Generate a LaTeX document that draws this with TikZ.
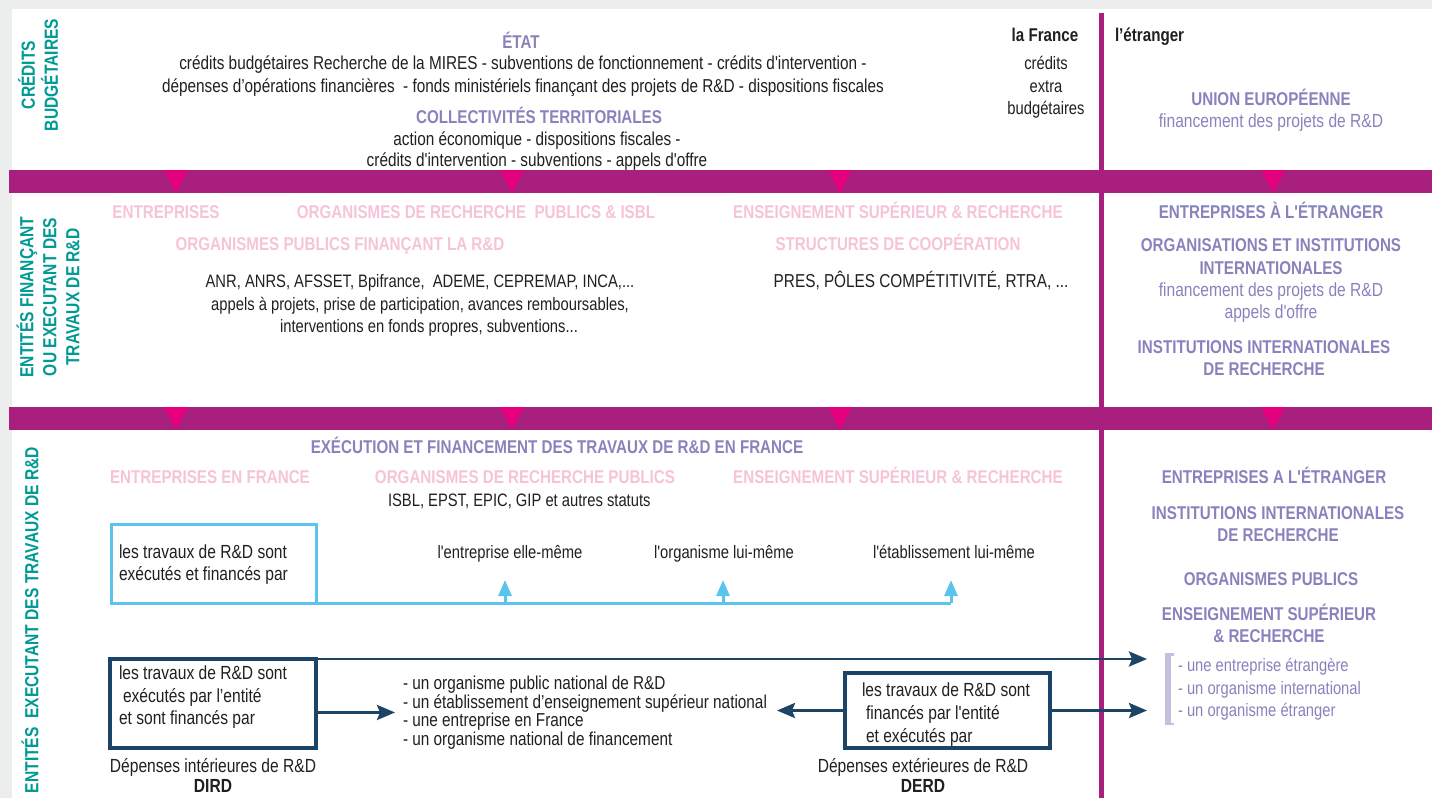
\documentclass[tikz,border=0pt]{standalone}
\usepackage{fontspec}
\newfontfamily\nar[FakeStretch=0.82]{Liberation Sans}
\usetikzlibrary{arrows.meta}
\definecolor{cbg}{HTML}{ECEDED}
\definecolor{cband}{HTML}{A81F7D}
\definecolor{ctri}{HTML}{E4007D}
\definecolor{cteal}{HTML}{009A95}
\definecolor{cpurple}{HTML}{8A82BD}
\definecolor{cpink}{HTML}{F6C3D8}
\definecolor{cblue}{HTML}{5BC4EC}
\definecolor{cnavy}{HTML}{1B4466}
\definecolor{cbrack}{HTML}{C6C0E0}
\definecolor{ctext}{HTML}{231F20}
\begin{document}
\begin{tikzpicture}[x=1pt,y=-1pt,
  every node/.style={inner sep=0pt, outer sep=0pt},
  txt/.style={anchor=base, font=\nar\fontsize{18}{22}\selectfont, text=ctext},
  txtl/.style={anchor=base, font=\nar\fontsize{18.7}{22}\selectfont, text=ctext},
  btxt/.style={anchor=base west, font=\nar\fontsize{19}{22}\selectfont, text=ctext},
  hd/.style={anchor=base, font=\nar\bfseries\fontsize{18.5}{22}\selectfont},
  purp/.style={hd, text=cpurple},
  pinkh/.style={hd, text=cpink},
  blk/.style={hd, text=ctext},
  purpl/.style={txt, font=\nar\fontsize{19}{22}\selectfont, text=cpurple},
  purpf/.style={txt, anchor=base west, text=cpurple},
  side/.style={rotate=90, align=center, font=\nar\bfseries\fontsize{19}{23}\selectfont, text=cteal},
  bline/.style={draw=cblue, line width=3pt},
  barrow/.style={bline, -{Triangle[length=16pt,width=13pt]}},
  nbox/.style={draw=cnavy, line width=3.2pt},
  navyarr/.style={draw=cnavy, line width=2.8pt, -{Stealth[length=18pt,width=15pt,inset=3pt]}},
  lst/.style={anchor=north west, align=left, font=\nar\fontsize{18.7}{15.5}\selectfont, text=ctext}
]
\useasboundingbox (0,0) rectangle (1432,798);
\fill[cbg] (0,0) rectangle (1432,798);
\fill[white] (12,9) rectangle (1432,798);
% frame lines
\fill[cband] (1099,13) rectangle (1103.5,798);
\fill[cband] (9,170) rectangle (1432,193);
\fill[cband] (9,407) rectangle (1432,430);
\foreach \x in {176,512,840,1273}{
  \fill[ctri] (\x-12,170) -- (\x+12,170) -- (\x,193) -- cycle;
  \fill[ctri] (\x-12,407) -- (\x+12,407) -- (\x,430) -- cycle;
}
% side labels
\node[side] (lbl1) at (38,75) {CRÉDITS\\BUDGÉTAIRES};
\node[side] (lbl2) at (48,297) {ENTITÉS FINANÇANT\\OU EXECUTANT DES\\TRAVAUX DE R\&D};
\node[side] (lbl3) at (30,620) {ENTITÉS\ \ EXECUTANT DES TRAVAUX DE R\&D};
% row 1
\node[purp] (etat) at (521,48) {ÉTAT};
\node[txtl] (etat1) at (523,69) {crédits budgétaires Recherche de la MIRES - subventions de fonctionnement - crédits d'intervention -};
\node[txtl] (etat2) at (523,92) {dépenses d’opérations financières\ \ - fonds ministériels finançant des projets de R\&D - dispositions fiscales};
\node[purp] (coll) at (539,123) {COLLECTIVITÉS TERRITORIALES};
\node[txtl] (coll1) at (537,145) {action économique - dispositions fiscales -};
\node[txtl] (coll2) at (537,166) {crédits d'intervention - subventions - appels d'offre};
\node[blk] (lafrance) at (1045,41) {la France};
\node[txt] (xb1) at (1046,69) {crédits};
\node[txt] (xb2) at (1046,92) {extra};
\node[txt] (xb3) at (1046,114) {budgétaires};
\node[blk, anchor=base west] (etranger) at (1115,41) {l’étranger};
\node[purp] (ue) at (1271,105) {UNION EUROPÉENNE};
\node[purpl] (ue1) at (1271,127) {financement des projets de R\&D};
% row 2
\node[pinkh] (entr) at (166,218) {ENTREPRISES};
\node[pinkh] (orgr) at (476,218) {ORGANISMES DE RECHERCHE\ \ PUBLICS \& ISBL};
\node[pinkh] (ens1) at (898,218) {ENSEIGNEMENT SUPÉRIEUR \& RECHERCHE};
\node[pinkh] (opf) at (340,250) {ORGANISMES PUBLICS FINANÇANT LA R\&D};
\node[pinkh] (struct) at (898,250) {STRUCTURES DE COOPÉRATION};
\node[txt] (anr1) at (420,287) {ANR, ANRS, AFSSET, Bpifrance,\ \ ADEME, CEPREMAP, INCA,...};
\node[txt] (anr2) at (420,310) {appels à projets, prise de participation, avances remboursables,};
\node[txt] (anr3) at (429,332) {interventions en fonds propres, subventions...};
\node[txtl] (pres) at (921,287) {PRES, PÔLES COMPÉTITIVITÉ, RTRA, ...};
\node[purp] (eetr) at (1271,218) {ENTREPRISES À L'ÉTRANGER};
\node[purp] (oi1) at (1271,251) {ORGANISATIONS ET INSTITUTIONS};
\node[purp] (oi2) at (1271,274) {INTERNATIONALES};
\node[purpl] (oi3) at (1271,296) {financement des projets de R\&D};
\node[purpl] (oi4) at (1271,318) {appels d'offre};
\node[purp] (iir1) at (1264,353) {INSTITUTIONS INTERNATIONALES};
\node[purp] (iir2) at (1264,375) {DE RECHERCHE};
% row 3
\node[purp] (exec) at (557,453) {EXÉCUTION ET FINANCEMENT DES TRAVAUX DE R\&D EN FRANCE};
\node[pinkh] (entfr) at (210,483) {ENTREPRISES EN FRANCE};
\node[pinkh] (orp) at (525,483) {ORGANISMES DE RECHERCHE PUBLICS};
\node[pinkh] (ens2) at (898,483) {ENSEIGNEMENT SUPÉRIEUR \& RECHERCHE};
\node[txt, anchor=base west] (isbl) at (388,506) {ISBL, EPST, EPIC, GIP et autres statuts};
% blue box
\node[bline, minimum width=205pt, minimum height=79pt, anchor=north west] (bbox) at (111,524) {};
\node[btxt] (bb1) at (119,558) {les travaux de R\&D sont};
\node[btxt] (bb2) at (119,580) {exécutés et financés par};
\node[txt] (e1) at (510,558) {l'entreprise elle-même};
\node[txt] (e2) at (724,558) {l'organisme lui-même};
\node[txt] (e3) at (954,558) {l'établissement lui-même};
\coordinate (u1) at (505,580);
\coordinate (u2) at (723,580);
\coordinate (u3) at (951,580);
\draw[bline] (bbox.south east) -- (u3 |- bbox.south);
\foreach \u in {u1,u2,u3}{\draw[barrow] (\u |- bbox.south) -- (\u);}
% navy box DIRD
\node[nbox, minimum width=206pt, minimum height=89pt, anchor=north west] (dbox) at (110,659) {};
\node[btxt] (db1) at (119,679) {les travaux de R\&D sont};
\node[btxt] (db2) at (123,702) {exécutés par l’entité};
\node[btxt] (db3) at (119,724) {et sont financés par};
\node[txt, font=\nar\fontsize{19}{22}\selectfont] (dird1) at (213,772) {Dépenses intérieures de R\&D};
\node[blk, font=\nar\bfseries\fontsize{19}{22}\selectfont] (dird2) at (213,792) {DIRD};
\node[lst] (list) at (403,676) {- un organisme public national de R\&D\\- un établissement d’enseignement supérieur national\\- une entreprise en France\\- un organisme national de financement};
% navy box DERD
\node[nbox, minimum width=205pt, minimum height=75pt, anchor=north west] (fbox) at (845,673) {};
\node[btxt] (fb1) at (862,696) {les travaux de R\&D sont};
\node[btxt] (fb2) at (866,719) {financés par l'entité};
\node[btxt] (fb3) at (866,742) {et exécutés par};
\node[txt, font=\nar\fontsize{19}{22}\selectfont] (derd1) at (923,772) {Dépenses extérieures de R\&D};
\node[blk, font=\nar\bfseries\fontsize{19}{22}\selectfont] (derd2) at (923,792) {DERD};
% right column row 3
\node[purp] (r1) at (1274,483) {ENTREPRISES A L'ÉTRANGER};
\node[purp] (r2) at (1278,519) {INSTITUTIONS INTERNATIONALES};
\node[purp] (r3) at (1278,541) {DE RECHERCHE};
\node[purp] (r4) at (1271,585) {ORGANISMES PUBLICS};
\node[purp] (r5) at (1269,620) {ENSEIGNEMENT SUPÉRIEUR};
\node[purp] (r6) at (1269,642) {\& RECHERCHE};
\fill[cbrack] (1165,653) rectangle (1171,725);
\fill[cbrack] (1165,653) rectangle (1174,655.5);
\fill[cbrack] (1165,722.5) rectangle (1174,725);
\node[purpf] (f1) at (1178,671) {- une entreprise étrangère};
\node[purpf] (f2) at (1178,694) {- un organisme international};
\node[purpf] (f3) at (1178,716) {- un organisme étranger};
% connectors
\coordinate (fa1) at (1147,659);
\draw[navyarr] (dbox.north east) -- (fa1);
\draw[navyarr] (dbox.east |- list.west) -- ([xshift=-8pt]list.west);
\draw[navyarr] (fbox.west) -- ([xshift=10pt]fbox.west -| list.east);
\draw[navyarr] (fbox.east) -- (fbox.east -| fa1);
\end{tikzpicture}
\end{document}
